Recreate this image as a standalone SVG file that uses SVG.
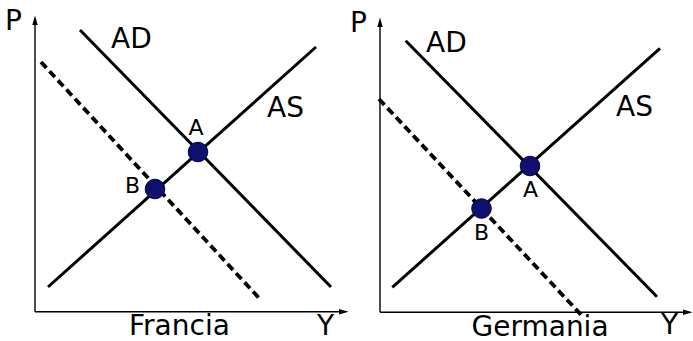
<svg xmlns="http://www.w3.org/2000/svg" width="693" height="341" viewBox="0 0 693 341">
<style>
.axis{stroke:#000;stroke-width:1.4;fill:none}
.curve{stroke:#000;stroke-width:3;fill:none;stroke-linecap:butt}
.dash{stroke:#000;stroke-width:3.8;fill:none;stroke-dasharray:8 4.5}
.pt{fill:#0f0f70;stroke:#07073d;stroke-width:1}
.big{font-family:"DejaVu Sans",sans-serif;font-size:28px;fill:#000}
.small{font-family:"DejaVu Sans",sans-serif;font-size:22px;fill:#000}
.head{fill:#000}
</style>
<rect width="693" height="341" fill="#fff"/>
<g id="connectors">
  <line class="axis" x1="35" y1="311.7" x2="35" y2="22"/>
  <polygon class="head" points="35,15.5 32.3,25 37.7,25"/>
  <line class="axis" x1="35" y1="311.7" x2="342" y2="311.7"/>
  <polygon class="head" points="348.5,311.7 339,309 339,314.4"/>
  <line class="curve" x1="80" y1="30" x2="331" y2="287"/>
  <line class="curve" x1="48" y1="287" x2="316" y2="47"/>
  <line class="dash" x1="41" y1="62" x2="259" y2="298"/>
  <line class="axis" x1="380" y1="312.3" x2="380" y2="24"/>
  <polygon class="head" points="380,17.5 377.3,27 382.7,27"/>
  <line class="axis" x1="380" y1="312.3" x2="686" y2="312.3"/>
  <polygon class="head" points="692.5,312.3 683,309.6 683,315"/>
  <line class="curve" x1="405.7" y1="40.7" x2="657" y2="296.7"/>
  <line class="curve" x1="392.3" y1="287.3" x2="660" y2="48.3"/>
  <line class="dash" x1="379" y1="99" x2="581.3" y2="315"/>
</g>
<g id="left-labels">
  <text class="big" x="5" y="30">P</text>
  <text class="big" x="111" y="48">AD</text>
  <text class="big" x="267" y="116.5">AS</text>
  <text class="big" x="129" y="335">Francia</text>
  <text class="big" x="317" y="335">Y</text>
</g>
<g id="left-A">
  <circle class="pt" cx="198" cy="152" r="9.8"/>
  <text class="small" x="188.5" y="135">A</text>
</g>
<g id="left-B">
  <circle class="pt" cx="155" cy="189" r="9.8"/>
  <text class="small" x="125" y="193">B</text>
</g>
<g id="right-labels">
  <text class="big" x="350" y="32">P</text>
  <text class="big" x="426" y="52">AD</text>
  <text class="big" x="616" y="116">AS</text>
  <text class="big" x="471.5" y="335.5">Germania</text>
  <text class="big" x="661" y="333.5">Y</text>
</g>
<g id="right-A">
  <circle class="pt" cx="530" cy="166" r="9.8"/>
  <text class="small" x="523" y="197">A</text>
</g>
<g id="right-B">
  <circle class="pt" cx="481.5" cy="208.5" r="9.8"/>
  <text class="small" x="474" y="240">B</text>
</g>
</svg>
